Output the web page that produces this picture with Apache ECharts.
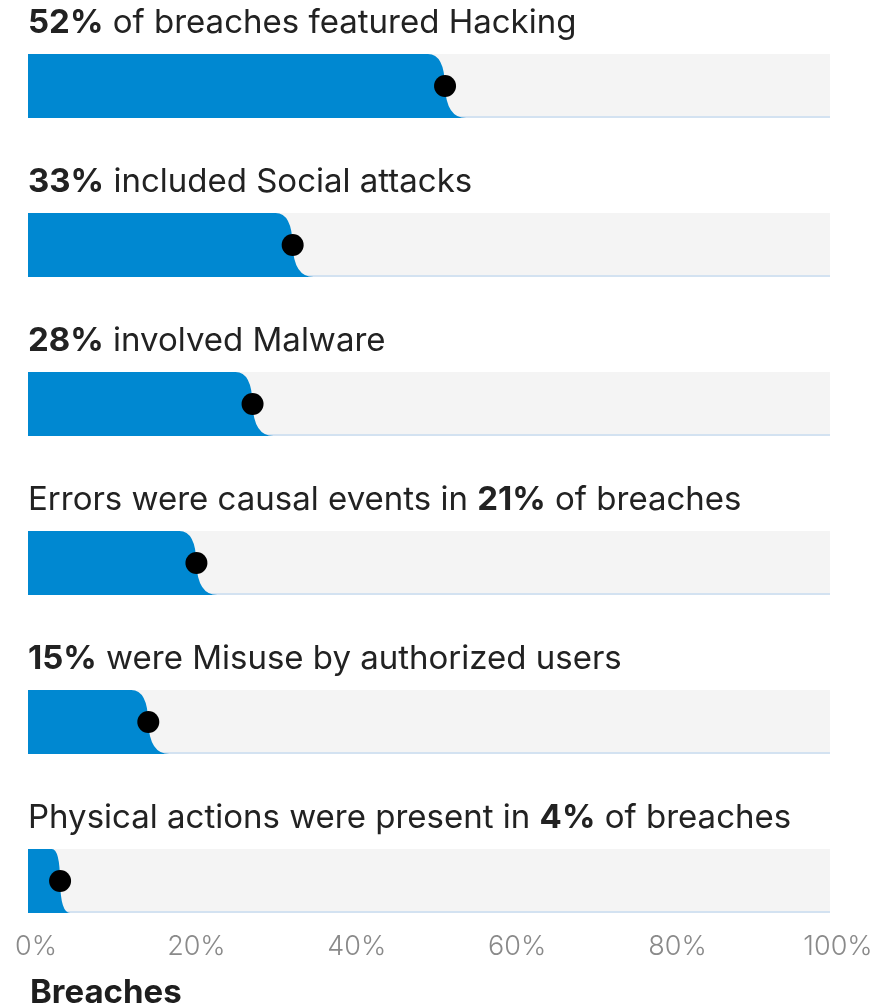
<!DOCTYPE html>
<html>
<head>
<meta charset="utf-8">
<script src="https://cdn.jsdelivr.net/npm/echarts@6/dist/echarts.min.js"></script>
<style>
html,body{margin:0;padding:0;background:#fff;}
#chart{width:894px;height:1007px;}
</style>
</head>
<body>
<div id="chart"></div>
<script>
// ---- data ----
const categories = ['Hacking', 'Social', 'Malware', 'Error', 'Misuse', 'Physical'];
const values = [52, 33, 28, 21, 15, 4];
const titlePrefix = ['', '', '', 'Errors were causal events in ', '', 'Physical actions were present in '];
const titleSuffix = [' of breaches featured Hacking', ' included Social attacks', ' involved Malware', ' of breaches', ' were Misuse by authorized users', ' of breaches'];
const tickValues = [0, 20, 40, 60, 80, 100];
const axisTitle = 'Breaches';

const FONT = 'Inter';
const chart = echarts.init(document.getElementById('chart'), null, {renderer: 'canvas'});

function renderItem(params, api) {
  const v = api.value(0);
  const idx = api.value(1);
  const c0 = api.coord([0, idx]);
  const c100 = api.coord([100, idx]);
  const cv = api.coord([v, idx]);
  const yc = c0[1];
  const h = 64;
  const top = yc - h / 2, bottom = yc + h / 2;
  const x0 = c0[0], x1 = c100[0], xv = cv[0];
  const d = Math.min(20, (xv - x0) * 0.3);
  const d1 = d * 0.85, d2 = d * 1.05;
  const path = 'M' + x0 + ' ' + top +
    ' L' + (xv - d1) + ' ' + top +
    ' Q' + (xv - d1 * 0.05) + ' ' + top + ' ' + xv + ' ' + yc +
    ' Q' + (xv + d2 * 0.05) + ' ' + bottom + ' ' + (xv + d2) + ' ' + bottom +
    ' L' + x0 + ' ' + bottom + ' Z';
  const i = params.dataIndex;
  const txt = (titlePrefix[i] ? '{r|' + titlePrefix[i] + '}' : '') + '{b|' + v + '%}' + '{r|' + titleSuffix[i] + '}';
  return {
    type: 'group',
    children: [
      {type: 'rect', shape: {x: x0, y: top, width: x1 - x0, height: h}, style: {fill: '#f4f4f4'}},
      {type: 'rect', shape: {x: x0, y: bottom - 2, width: x1 - x0, height: 2}, style: {fill: '#d3e2f1'}},
      {type: 'path', shape: {pathData: path}, style: {fill: '#0088d1'}},
      {type: 'circle', shape: {cx: xv, cy: yc, r: 11}, style: {fill: '#000'}},
      {type: 'text', x: x0, y: yc - 63, style: {
        text: txt, verticalAlign: 'middle', align: 'left',
        rich: {
          r: {fontFamily: FONT, fontSize: 33, fontWeight: 400, fill: '#222', letterSpacing: -0.3},
          b: {fontFamily: FONT, fontSize: 33, fontWeight: 700, fill: '#222', letterSpacing: -0.3}
        }
      }}
    ]
  };
}

chart.setOption({
  animation: false,
  title: {text: axisTitle, left: 30, top: 977, padding: 0, textStyle: {fontFamily: FONT, fontSize: 33, fontWeight: 700, color: '#1e1e1e'}},
  grid: {left: 28, right: 64, top: 6.5, bottom: 46.5, containLabel: false},
  xAxis: {
    type: 'value', min: 0, max: 100, interval: 20,
    axisLine: {show: false}, axisTick: {show: false}, splitLine: {show: false},
    axisLabel: {
      margin: 0, verticalAlign: 'bottom', color: '#8a8a8a', fontFamily: FONT, fontSize: 27, fontWeight: 300,
      padding: [0, 0, 0, 16],
      formatter: v => tickValues.includes(v) ? v + '%' : ''
    }
  },
  yAxis: {type: 'category', data: categories, inverse: true, show: false},
  series: [{
    type: 'custom',
    renderItem: renderItem,
    encode: {x: 0, y: 1},
    data: values.map((v, i) => [v, i])
  }]
});
</script>
</body>
</html>
